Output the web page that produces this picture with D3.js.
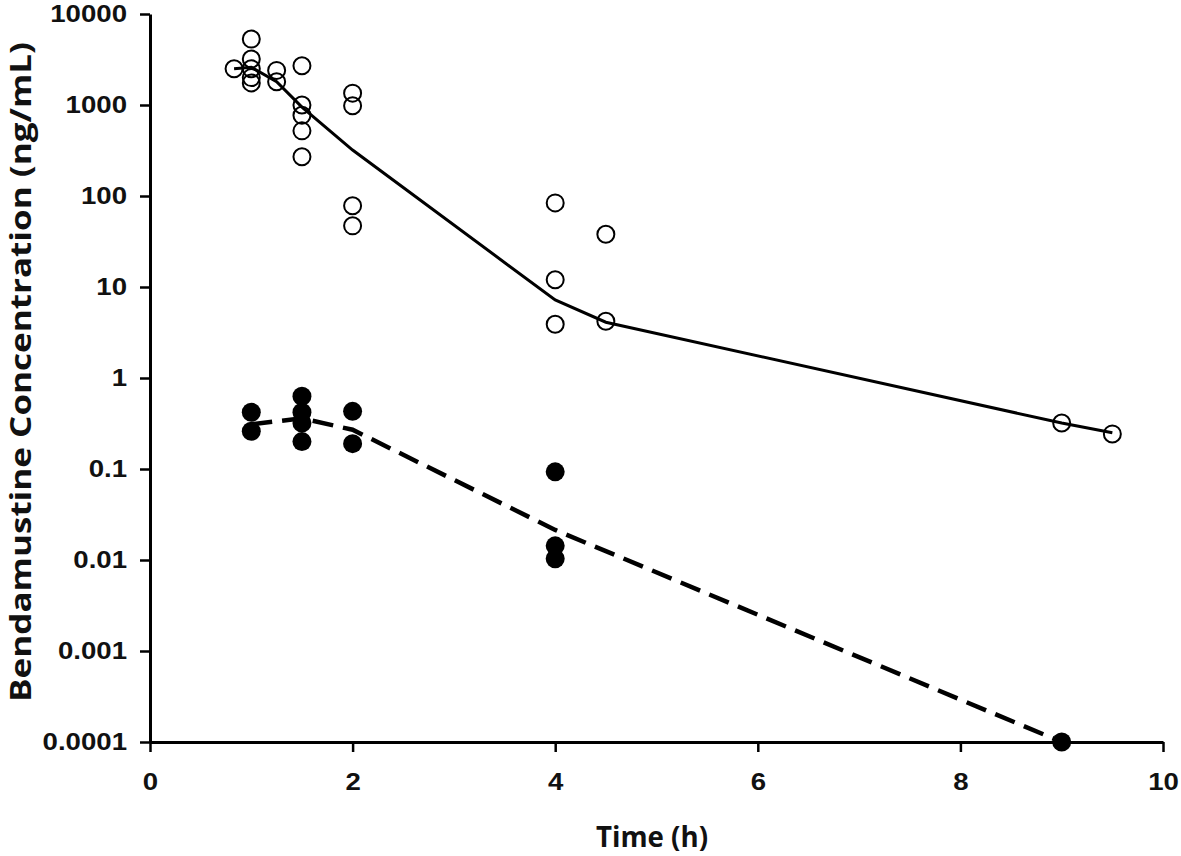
<!DOCTYPE html>
<html>
<head>
<meta charset="utf-8">
<script src="https://cdn.jsdelivr.net/npm/d3@7"></script>
<style>
  html, body { margin: 0; padding: 0; background: #fff; }
  svg { display: block; }
</style>
</head>
<body>
<svg id="chart" width="1181" height="856"></svg>
<script>
// ---- data ----
const xTicks = [0, 2, 4, 6, 8, 10];
const yTicks = [10000, 1000, 100, 10, 1, 0.1, 0.01, 0.001, 0.0001];
const yTickLabels = ["10000", "1000", "100", "10", "1", "0.1", "0.01", "0.001", "0.0001"];

// open circles (individual observations, series 1)
const openTimes = [0.83, 1, 1, 1, 1, 1, 1.25, 1.25, 1.5, 1.5, 1.5, 1.5, 1.5, 2, 2, 2, 2, 4, 4, 4, 4.5, 4.5, 9, 9.5];
const openConc  = [2500, 5300, 3200, 2500, 2000, 1750, 2400, 1800, 2700, 1000, 770, 520, 270, 1350, 980, 78, 47, 84, 12, 3.9, 38, 4.2, 0.32, 0.243];

// mean line, series 1 (solid)
const meanTimes1 = [0.83, 1, 1.25, 1.5, 2, 4, 4.5, 9, 9.5];
const meanConc1  = [2500, 2600, 1800, 950, 320, 7.2, 4.1, 0.32, 0.25];

// filled circles (individual observations, series 2)
const filledTimes = [1, 1, 1.5, 1.5, 1.5, 1.5, 2, 2, 4, 4, 4, 9];
const filledConc  = [0.42, 0.26, 0.63, 0.42, 0.32, 0.2, 0.43, 0.19, 0.093, 0.0143, 0.0103, 0.0001];

// mean line, series 2 (dashed)
const meanTimes2 = [1, 1.5, 2, 4, 9];
const meanConc2  = [0.31, 0.36, 0.27, 0.0214, 0.0001];

// ---- layout ----
const svg = d3.select("#chart");
const plotLeft = 150, plotRight = 1163, plotTop = 14, plotBottom = 742;

const x = d3.scaleLinear().domain([0, 10]).range([plotLeft, plotRight]);
const y = d3.scaleLog().domain([0.0001, 10000]).range([plotBottom, plotTop]);

const tickFont = "'Liberation Sans', Arial, sans-serif";
const titleFont = "'Open Sans', 'Noto Sans', sans-serif";

// y axis
const yAxis = svg.append("g")
  .attr("transform", `translate(${plotLeft},0)`)
  .call(d3.axisLeft(y).tickValues(yTicks).tickSize(10).tickSizeOuter(0)
        .tickFormat((d, i) => yTickLabels[i]));
yAxis.select(".domain").attr("stroke", "#000").attr("stroke-width", 3);
yAxis.selectAll(".tick line").attr("stroke", "#000").attr("stroke-width", 2.5);
yAxis.selectAll(".tick text")
  .attr("x", -20)
  .attr("transform", "scale(1.15,1)")
  .attr("font-family", tickFont)
  .attr("font-weight", "bold")
  .attr("font-size", 24)
  .attr("fill", "#111");

// x axis
const xAxis = svg.append("g")
  .attr("transform", `translate(0,${plotBottom})`)
  .call(d3.axisBottom(x).tickValues(xTicks).tickSize(10).tickSizeOuter(0).tickPadding(21)
        .tickFormat(d3.format("d")));
xAxis.select(".domain").attr("stroke", "#000").attr("stroke-width", 3);
xAxis.selectAll(".tick line").attr("stroke", "#000").attr("stroke-width", 2.5);
xAxis.selectAll(".tick text")
  .attr("transform", "scale(1.15,1)")
  .attr("x", 0)
  .attr("font-family", tickFont)
  .attr("font-weight", "bold")
  .attr("font-size", 24)
  .attr("fill", "#111");

// titles
svg.append("text")
  .attr("transform", "translate(31,372) rotate(-90)")
  .attr("text-anchor", "middle")
  .attr("font-family", titleFont)
  .attr("font-weight", "bold")
  .attr("font-size", 28)
  .attr("textLength", 660)
  .attr("lengthAdjust", "spacingAndGlyphs")
  .attr("fill", "#111")
  .text("Bendamustine Concentration (ng/mL)");

svg.append("text")
  .attr("x", 652)
  .attr("y", 847)
  .attr("text-anchor", "middle")
  .attr("font-family", titleFont)
  .attr("font-weight", "bold")
  .attr("font-size", 28)
  .attr("textLength", 112)
  .attr("lengthAdjust", "spacingAndGlyphs")
  .attr("fill", "#111")
  .text("Time (h)");

// lines
const line = d3.line().x(d => x(d[0])).y(d => y(d[1]));
svg.append("path")
  .datum(meanTimes1.map((t, i) => [t, meanConc1[i]]))
  .attr("d", line)
  .attr("fill", "none")
  .attr("stroke", "#000")
  .attr("stroke-width", 3);

svg.append("path")
  .datum(meanTimes2.map((t, i) => [t, meanConc2[i]]))
  .attr("d", line)
  .attr("fill", "none")
  .attr("stroke", "#000")
  .attr("stroke-width", 4.5)
  .attr("stroke-dasharray", "21,10");

// points
svg.append("g").selectAll("circle")
  .data(openTimes.map((t, i) => [t, openConc[i]]))
  .join("circle")
  .attr("cx", d => x(d[0]))
  .attr("cy", d => y(d[1]))
  .attr("r", 8.5)
  .attr("fill", "none")
  .attr("stroke", "#000")
  .attr("stroke-width", 2);

svg.append("g").selectAll("circle")
  .data(filledTimes.map((t, i) => [t, filledConc[i]]))
  .join("circle")
  .attr("cx", d => x(d[0]))
  .attr("cy", d => y(d[1]))
  .attr("r", 9.5)
  .attr("fill", "#000");
</script>
</body>
</html>
